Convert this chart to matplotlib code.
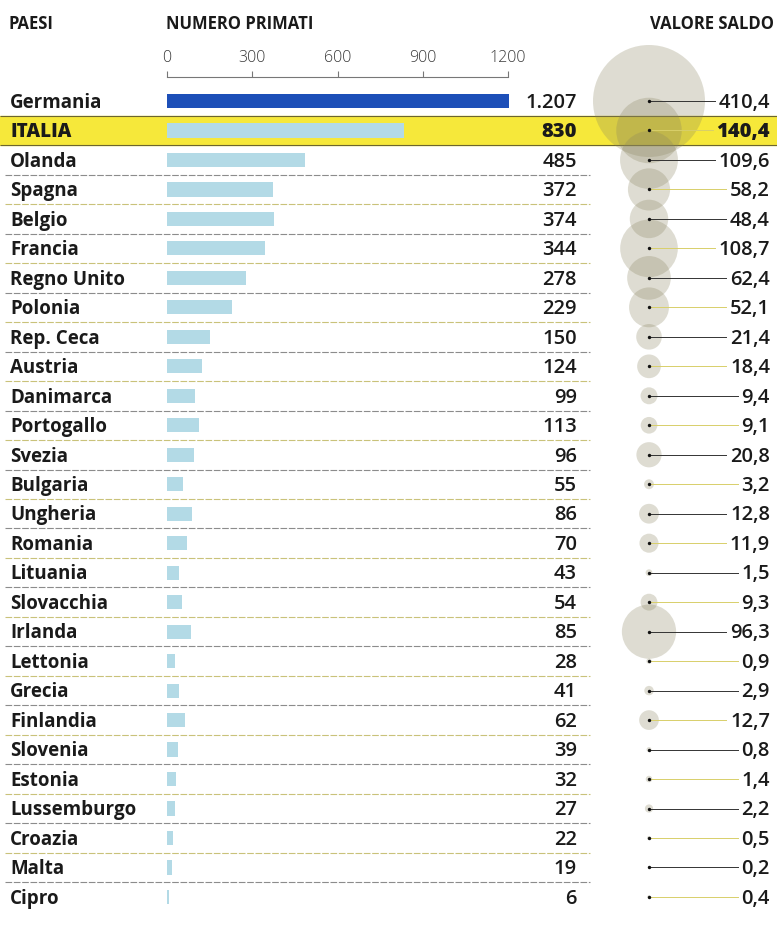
import matplotlib
matplotlib.use('Agg')
import matplotlib.pyplot as plt
from matplotlib.transforms import blended_transform_factory
import numpy as np

# ─── data ───────────────────────────────────────────────────────────────────
paesi = ['Germania', 'ITALIA', 'Olanda', 'Spagna', 'Belgio', 'Francia', 'Regno Unito',
         'Polonia', 'Rep. Ceca', 'Austria', 'Danimarca', 'Portogallo', 'Svezia',
         'Bulgaria', 'Ungheria', 'Romania', 'Lituania', 'Slovacchia', 'Irlanda',
         'Lettonia', 'Grecia', 'Finlandia', 'Slovenia', 'Estonia', 'Lussemburgo',
         'Croazia', 'Malta', 'Cipro']
primati = [1207, 830, 485, 372, 374, 344, 278, 229, 150, 124, 99, 113, 96, 55, 86,
           70, 43, 54, 85, 28, 41, 62, 39, 32, 27, 22, 19, 6]
saldo = [410.4, 140.4, 109.6, 58.2, 48.4, 108.7, 62.4, 52.1, 21.4, 18.4, 9.4, 9.1,
         20.8, 3.2, 12.8, 11.9, 1.5, 9.3, 96.3, 0.9, 2.9, 12.7, 0.8, 1.4, 2.2, 0.5,
         0.2, 0.4]
scala_ticks = [0, 300, 600, 900, 1200]
evidenza = 'ITALIA'

FONT = 'Open Sans'
W, H = 777, 936
ROW0, STEP = 101, 29.48
DY = 0.06  # small nudge so text sits on the row centre

def fmt_int(v):
    return f'{v:,}'.replace(',', '.')

def fmt_dec(v):
    return f'{v:.1f}'.replace('.', ',')

fig = plt.figure(figsize=(W / 100, H / 100), dpi=100)
n = len(paesi)
ylim = ((H - ROW0) / STEP, -ROW0 / STEP)

# bar axes: x from 167px to 509px, full height
ax = fig.add_axes([167 / W, 0, 342 / W, 1])
ax.set_xlim(0, 1200)
ax.set_ylim(*ylim)
ax.axis('off')

# bubble axes
axb = fig.add_axes([589 / W, 0, 120 / W, 1])
axb.set_xlim(0, 1)
axb.set_ylim(*ylim)
axb.axis('off')

# background axes for bands and separators
axg = fig.add_axes([0, 0, 1, 1], zorder=-1)
axg.set_xlim(0, W)
axg.set_ylim(*ylim)
axg.axis('off')

y = np.arange(n)
hi = paesi.index(evidenza)

# yellow highlight band
axg.axhspan(hi - 0.5, hi + 0.5, color='#f6e83a', zorder=0)
axg.hlines([hi - 0.5, hi + 0.5], 0, W, color='#6b6530', lw=0.8, zorder=1)

# separators
for i in range(n - 1):
    if i in (hi - 1, hi):
        continue
    col = '#8c8c8c' if i % 2 == 0 else '#c9c27a'
    axg.hlines(i + 0.5, 5, 590, color=col, lw=0.8, linestyles=(0, (6, 1.5)), zorder=1)

# bars
bar_cols = ['#1d4fb8'] + ['#b3dae6'] * (n - 1)
ax.barh(y, primati, height=0.48, color=bar_cols, zorder=2)

trans = blended_transform_factory(fig.transFigure, ax.transData)
for i, (p, v, s) in enumerate(zip(paesi, primati, saldo)):
    ax.text(10 / W, i + DY, p, transform=trans, ha='left', va='center', fontsize=13.5,
            fontweight='heavy' if p == evidenza else 'bold', family=FONT,
            color='#1a1a1a')
    ax.text(577 / W, i + DY, fmt_int(v), transform=trans, ha='right', va='center',
            fontsize=14.5, fontweight='heavy' if p == evidenza else 'semibold',
            family=FONT, color='#1a1a1a')

# scale on top
axs = fig.add_axes([167 / W, (H - 77) / H, 341 / W, 5 / H])
axs.set_xlim(0, 1200)
axs.set_ylim(0, 1)
for sp in ('top', 'left', 'right'):
    axs.spines[sp].set_visible(False)
axs.spines['bottom'].set_color('#777777')
axs.spines['bottom'].set_linewidth(0.8)
axs.set_yticks([])
axs.set_xticks(scala_ticks)
axs.set_xticklabels([str(t) for t in scala_ticks], family=FONT, fontsize=11.5,
                    fontweight='light', color='#3a3a3a')
axs.get_xticklabels()[-1].set_ha('right')
axs.tick_params(axis='x', direction='in', length=4, width=0.8, color='#777777',
                bottom=True, top=False, labelbottom=False, labeltop=True, pad=4)
axs.patch.set_alpha(0)

# headers
for xh, txt, ha in [(9, 'PAESI', 'left'), (166, 'NUMERO PRIMATI', 'left'),
                    (774, 'VALORE SALDO', 'right')]:
    fig.text(xh / W, 1 - 24 / H, txt, ha=ha, va='center', fontsize=12,
             fontweight='bold', family=FONT, color='#1a1a1a')

# bubbles: area proportional to value
k = 15.85
axb.scatter(np.full(n, 0.5), y, s=np.array(saldo) * k, color='#8a845f', alpha=0.28,
            lw=0, zorder=2, clip_on=False)
axb.scatter(np.full(n, 0.5), y, s=6, color='#111111', lw=0, zorder=4, clip_on=False)

# value labels and leader lines
transb = blended_transform_factory(fig.transFigure, axb.transData)
labels = []
for i, (p, s) in enumerate(zip(paesi, saldo)):
    t = axb.text(770 / W, i + DY, fmt_dec(s), transform=transb, ha='right', va='center',
                 fontsize=14.5, fontweight='heavy' if p == evidenza else 'semibold',
                 family=FONT, color='#1a1a1a')
    labels.append(t)

fig.canvas.draw()
inv = axb.transData.inverted()
for i, t in enumerate(labels):
    bb = t.get_window_extent()
    x_end = inv.transform((bb.x0 - 4, 0))[0]
    col = '#333333' if i % 2 == 0 else '#d8cf6a'
    axb.plot([0.5, x_end], [i, i], color=col, lw=0.7, zorder=3, clip_on=False)

fig.savefig('out.png', dpi=100)
